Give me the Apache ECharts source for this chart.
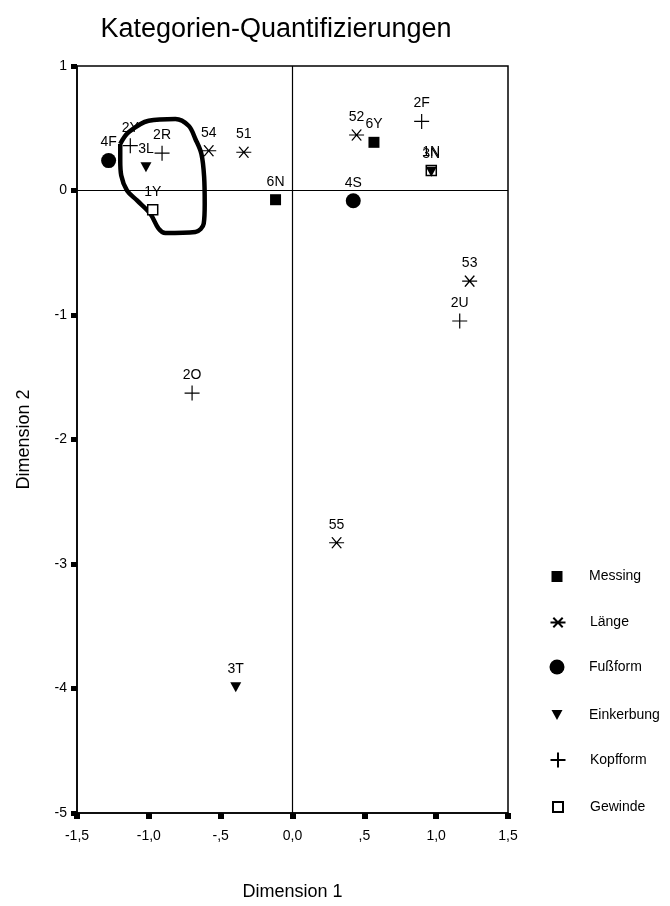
<!DOCTYPE html>
<html>
<head>
<meta charset="utf-8">
<script src="https://cdn.jsdelivr.net/npm/echarts@6/dist/echarts.min.js"></script>
<style>
  html, body { margin: 0; padding: 0; background: #fff; }
  #chart { width: 670px; height: 906px; }
</style>
</head>
<body>
<div id="chart"></div>
<script>
// Axis tick labels (German decimal comma, leading zero dropped as in SPSS output)
const xTickLabels = ['-1,5', '-1,0', '-,5', '0,0', ',5', '1,0', '1,5'];
const yTickLabels = ['-5', '-4', '-3', '-2', '-1', '0', '1'];

// Category quantifications per variable: labels, Dimension 1, Dimension 2
const messingLabels = ['6N', '6Y'];
const messingX = [-0.118, 0.567];
const messingY = [-0.074, 0.387];

const laengeLabels = ['51', '52', '53', '54', '55'];
const laengeX = [-0.339, 0.446, 1.233, -0.583, 0.307];
const laengeY = [0.307, 0.446, -0.728, 0.320, -2.830];

const fussformLabels = ['4F', '4S'];
const fussformX = [-1.280, 0.423];
const fussformY = [0.240, -0.082];

const einkerbungLabels = ['3L', '3N', '3T'];
const einkerbungX = [-1.020, 0.966, -0.395];
const einkerbungY = [0.187, 0.150, -3.990];

const kopfformLabels = ['2Y', '2R', '2F', '2U', '2O'];
const kopfformX = [-1.129, -0.908, 0.899, 1.164, -0.699];
const kopfformY = [0.360, 0.300, 0.555, -1.048, -1.627];

const gewindeLabels = ['1Y', '1N'];
const gewindeX = [-0.973, 0.966];
const gewindeY = [-0.154, 0.160];

// Hand-drawn outline around the left upper cluster (data coordinates)
const outlineX = [-1.199, -1.141, -1.001, -0.815, -0.723, -0.676, -0.634, -0.615, -0.611,
                  -0.618, -0.676, -0.885, -0.932, -0.990, -1.082, -1.152, -1.192, -1.199, -1.199];
const outlineY = [0.374, 0.467, 0.560, 0.574, 0.520, 0.414, 0.294, 0.107, -0.106,
                  -0.266, -0.333, -0.341, -0.306, -0.186, -0.080, 0.000, 0.120, 0.240, 0.374];

const FONT = 'Liberation Sans, Arial, sans-serif';
const plusPath = 'path://M0,7L14,7M7,0L7,14';
const starPath = 'path://M0,5L16,5M3,0L13,10M3,10L13,0';
const downTrianglePath = 'path://M0,0L11,0L5.5,10Z';

function points(labels, xs, ys) {
  return labels.map((name, i) => ({ name, value: [xs[i], ys[i]] }));
}

const pointLabel = {
  show: true,
  formatter: '{b}',
  position: 'inside',
  offset: [0, -18],
  color: '#000',
  fontSize: 14,
  fontFamily: FONT
};

const groups = [
  { name: 'Messing', data: points(messingLabels, messingX, messingY),
    symbol: 'rect', size: 11, z: 5,
    style: { color: '#000', opacity: 1 }, legend: { w: 11, h: 11 } },
  { name: 'Länge', data: points(laengeLabels, laengeX, laengeY),
    symbol: starPath, size: [15, 11], z: 5,
    style: { color: '#000', borderColor: '#000', borderWidth: 1.2, opacity: 1 }, legend: { w: 15, h: 11 } },
  { name: 'Fußform', data: points(fussformLabels, fussformX, fussformY),
    symbol: 'circle', size: 15, z: 5,
    style: { color: '#000', opacity: 1 }, legend: { w: 15, h: 15 } },
  { name: 'Einkerbung', data: points(einkerbungLabels, einkerbungX, einkerbungY),
    symbol: downTrianglePath, size: [11, 10], z: 7,
    style: { color: '#000', opacity: 1 }, legend: { w: 11, h: 10 } },
  { name: 'Kopfform', data: points(kopfformLabels, kopfformX, kopfformY),
    symbol: plusPath, size: 15, z: 5,
    style: { color: '#000', borderColor: '#000', borderWidth: 1.2, opacity: 1 }, legend: { w: 15, h: 15 } },
  { name: 'Gewinde', data: points(gewindeLabels, gewindeX, gewindeY),
    symbol: 'rect', size: 10, z: 6,
    style: { color: '#fff', borderColor: '#000', borderWidth: 1.5, opacity: 1 }, legend: { w: 10, h: 10 } }
];

const series = groups.map(g => ({
  type: 'scatter',
  name: g.name,
  data: g.data,
  symbol: g.symbol,
  symbolSize: g.size,
  itemStyle: g.style,
  label: pointLabel,
  emphasis: { disabled: true },
  z: g.z
}));

// outline curve plus the zero reference lines
series.push({
  type: 'line',
  name: 'outline',
  data: outlineX.map((x, i) => [x, outlineY[i]]),
  showSymbol: false,
  symbol: 'none',
  smooth: 0.35,
  lineStyle: { color: '#000', width: 4.5, opacity: 1 },
  silent: true,
  z: 4,
  markLine: {
    silent: true,
    symbol: 'none',
    label: { show: false },
    lineStyle: { color: '#000', width: 1.2, type: 'solid', opacity: 1 },
    data: [{ xAxis: 0 }, { yAxis: 0 }]
  }
});

// one legend block per variable so each icon keeps its own size
const legendIconX = 557, legendTextX = 589, legendTop0 = 575, legendStep = 46;
const legends = groups.map((g, i) => ({
  data: [g.name],
  orient: 'vertical',
  padding: 0,
  left: legendIconX - g.legend.w / 2,
  top: legendTop0 + i * legendStep - g.legend.h / 2,
  itemWidth: g.legend.w,
  itemHeight: g.legend.h,
  selectedMode: false,
  textStyle: {
    color: '#000',
    fontSize: 14,
    fontFamily: FONT,
    padding: [0, 0, 0, legendTextX - (legendIconX + g.legend.w / 2) - 5]
  }
}));

const chart = echarts.init(document.getElementById('chart'), null, { renderer: 'canvas' });
chart.setOption({
  animation: false,
  backgroundColor: '#fff',
  title: {
    text: 'Kategorien-Quantifizierungen',
    left: 276,
    textAlign: 'center',
    top: 16,
    padding: 0,
    textStyle: { fontSize: 27, fontWeight: 'normal', color: '#000', fontFamily: FONT }
  },
  legend: legends,
  grid: {
    left: 77, right: 162, top: 66, bottom: 89,
    show: true, borderColor: '#000', borderWidth: 1.5, backgroundColor: 'transparent'
  },
  xAxis: {
    type: 'value', min: -1.5, max: 1.5, interval: 0.5,
    name: 'Dimension 1', nameLocation: 'middle', nameGap: 70,
    nameTextStyle: { fontSize: 18, color: '#000', fontFamily: FONT },
    axisLine: { show: true, onZero: false, lineStyle: { color: '#000', width: 1.5 } },
    axisTick: { show: true, length: 6, lineStyle: { color: '#000', width: 6 } },
    axisLabel: {
      color: '#000', fontSize: 14, fontFamily: FONT, margin: 16,
      formatter: v => xTickLabels[Math.round((v + 1.5) / 0.5)]
    },
    splitLine: { show: false }
  },
  yAxis: {
    type: 'value', min: -5, max: 1, interval: 1,
    name: 'Dimension 2', nameLocation: 'middle', nameGap: 44,
    nameTextStyle: { fontSize: 18, color: '#000', fontFamily: FONT },
    axisLine: { show: true, onZero: false, lineStyle: { color: '#000', width: 1.5 } },
    axisTick: { show: true, length: 6, lineStyle: { color: '#000', width: 5 } },
    axisLabel: {
      color: '#000', fontSize: 14, fontFamily: FONT, margin: 10,
      formatter: v => yTickLabels[Math.round(v + 5)]
    },
    splitLine: { show: false }
  },
  series
});
</script>
</body>
</html>
